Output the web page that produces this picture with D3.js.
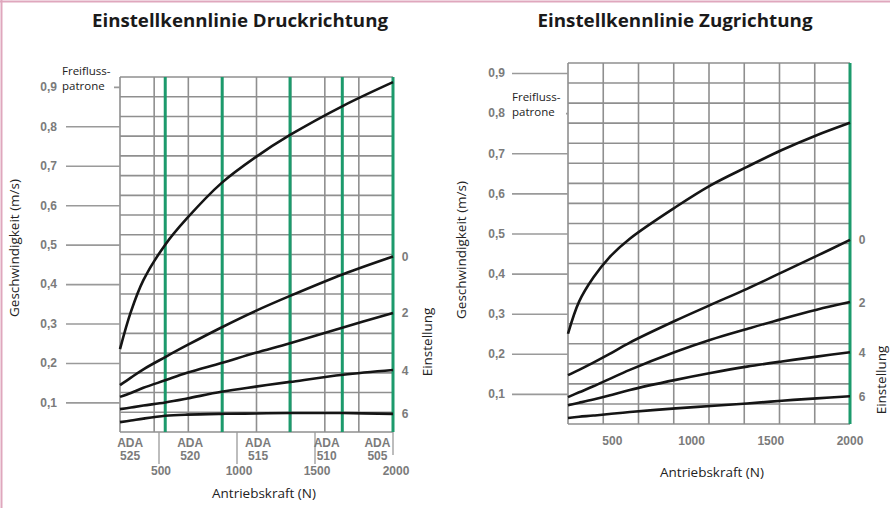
<!DOCTYPE html>
<html><head><meta charset="utf-8">
<script src="https://cdn.jsdelivr.net/npm/d3@7"></script>
<style>
html,body{margin:0;padding:0;background:#fff;}
svg{display:block;}
</style></head>
<body>
<svg id="c" width="890" height="508"></svg>
<script>
// ---------- DATA ----------
const yTickValues = [0.1,0.2,0.3,0.4,0.5,0.6,0.7,0.8,0.9];
const hGridValues = [0.025,0.075,0.125,0.175,0.225,0.275,0.325,0.375,0.425,0.475,0.525,0.575,0.625,0.675,0.725,0.775,0.825,0.875,0.925];
const settingLabels = ["0","2","4","6"];

// Druckrichtung (left)
const druckForce = [250, 320, 400, 540, 680, 900, 1120, 1340, 1680, 2000];
const druckFreifluss = [0.235, 0.33, 0.41, 0.50, 0.567, 0.656, 0.722, 0.778, 0.852, 0.912];
const druckE0 = [0.144, 0.163, 0.184, 0.215, 0.245, 0.290, 0.332, 0.370, 0.425, 0.470];
const druckE2 = [0.114, 0.124, 0.137, 0.156, 0.175, 0.200, 0.226, 0.250, 0.290, 0.327];
const druckE4 = [0.083, 0.087, 0.092, 0.100, 0.110, 0.127, 0.140, 0.152, 0.170, 0.182];
const druckE6 = [0.050, 0.054, 0.059, 0.066, 0.069, 0.071, 0.072, 0.073, 0.073, 0.071];
const druckVGrid = [250, 469, 688, 906, 1125, 1344, 1563, 1781, 2000];
const druckGreen = [540, 905, 1340, 1675, 2000];
const druckXTicks = [500, 1000, 1500, 2000];
const adaTypes = ["525","520","515","510","505"];
const adaForce = [315, 700, 1135, 1575, 1900];

// Zugrichtung (right)
const zugForce = [220, 290, 380, 480, 610, 900, 1120, 1350, 1570, 1790, 2000];
const zugFreifluss = [0.25, 0.33, 0.39, 0.44, 0.487, 0.566, 0.62, 0.666, 0.708, 0.745, 0.776];
const zugE0 = [0.147, 0.160, 0.178, 0.199, 0.228, 0.283, 0.322, 0.362, 0.403, 0.444, 0.484];
const zugE2 = [0.092, 0.104, 0.119, 0.137, 0.160, 0.205, 0.235, 0.262, 0.287, 0.310, 0.329];
const zugE4 = [0.072, 0.078, 0.086, 0.096, 0.110, 0.135, 0.152, 0.168, 0.181, 0.193, 0.204];
const zugE6 = [0.040, 0.043, 0.046, 0.050, 0.055, 0.064, 0.070, 0.076, 0.083, 0.089, 0.094];
const zugVGrid = [220, 442.5, 665, 887.5, 1110, 1332.5, 1555, 1777.5, 2000];
const zugGreen = [2000];
const zugXTicks = [500, 1000, 1500, 2000];

// ---------- DRAW ----------
const svg = d3.select("#c");
const fmt = v => d3.format(".1f")(v).replace(".", ",");
const gridCol = "#8f8f8f", green = "#1c9a6c", tickTxt = "#7b7b7b";

// pink border
svg.append("line").attr("x1",0).attr("x2",890).attr("y1",1.5).attr("y2",1.5).attr("stroke","#dfa7bd").attr("stroke-width",2);
svg.append("line").attr("x1",1.5).attr("x2",1.5).attr("y1",0).attr("y2",508).attr("stroke","#dfa7bd").attr("stroke-width",2);

function panel(cfg){
  const g = svg.append("g");
  const x = cfg.x, y = cfg.y;
  const [x0,x1] = x.range();
  const [y0,y1] = y.range();
  g.selectAll(null).data(hGridValues).join("line")
    .attr("x1",x0).attr("x2",x1).attr("y1",d=>y(d)).attr("y2",d=>y(d))
    .attr("stroke",gridCol).attr("stroke-width",1.6);
  g.selectAll(null).data(cfg.vgrid).join("line")
    .attr("x1",d=>x(d)).attr("x2",d=>x(d)).attr("y1",y0).attr("y2",y1)
    .attr("stroke",gridCol).attr("stroke-width",1.6);
  g.selectAll(null).data(cfg.green).join("line")
    .attr("x1",d=>x(d)).attr("x2",d=>x(d)).attr("y1",y0).attr("y2",y1)
    .attr("stroke",green).attr("stroke-width",3);
  const ax = g.append("g").attr("transform",`translate(${x0},0)`)
    .call(d3.axisLeft(y).tickValues(yTickValues).tickSize(cfg.tickLen).tickPadding(cfg.tickPad).tickFormat(fmt));
  ax.select(".domain").remove();
  ax.selectAll(".tick line").attr("stroke","#9a9a9a").attr("stroke-width",1.6);
  ax.selectAll(".tick text").attr("fill",tickTxt).style("font-family","Liberation Sans, Arial, sans-serif")
    .style("font-size","12px").style("font-weight","bold");
  const line = d3.line().x((d,i)=>x(cfg.force[i])).y(d=>y(d)).curve(d3.curveCatmullRom.alpha(0.5));
  g.selectAll(null).data(cfg.series).join("path")
    .attr("d",d=>line(d)).attr("fill","none").attr("stroke","#151515").attr("stroke-width",2.6);
  const ends = cfg.series.slice(1).map(s=>s[s.length-1]);
  g.selectAll(null).data(settingLabels).join("text")
    .attr("x",x1+12).attr("y",(d,i)=>y(ends[i])+4.5)
    .attr("fill",tickTxt).attr("text-anchor","middle")
    .style("font-family","Liberation Sans, Arial, sans-serif").style("font-size","12px").style("font-weight","bold")
    .text(d=>d);
  g.append("rect").attr("x",cfg.boxX).attr("y",y(cfg.boxV)-26).attr("width",cfg.boxW).attr("height",33).attr("fill","#fff");
  const t = g.append("text").attr("x",cfg.boxX+2).attr("y",y(cfg.boxV)-12)
    .attr("fill","#222").style("font-family","Open Sans, sans-serif").style("font-size","11.5px");
  t.append("tspan").text("Freifluss-");
  t.append("tspan").attr("x",cfg.boxX+2).attr("dy",15).text("patrone");
  g.append("text").attr("transform",`translate(${cfg.yTitleX},${cfg.yTitleY}) rotate(-90)`)
    .attr("text-anchor","middle").attr("fill","#222").style("font-family","Open Sans, sans-serif").style("font-size","13.5px")
    .text("Geschwindigkeit (m/s)");
  g.append("text").attr("transform",`translate(${cfg.eTitleX},${cfg.eTitleY}) rotate(-90)`)
    .attr("text-anchor","middle").attr("fill","#222").style("font-family","Open Sans, sans-serif").style("font-size","13.5px")
    .text("Einstellung");
  g.append("text").attr("x",cfg.xTitleX).attr("y",cfg.xTitleY)
    .attr("text-anchor","middle").attr("fill","#222").style("font-family","Open Sans, sans-serif").style("font-size","13.5px")
    .text("Antriebskraft (N)");
  g.append("text").attr("x",cfg.titleX).attr("y",27)
    .attr("text-anchor","middle").attr("fill","#1a1a1a").style("font-family","Open Sans, sans-serif")
    .style("font-size","17.5px").style("font-weight","700")
    .attr("textLength",cfg.titleW).attr("lengthAdjust","spacingAndGlyphs").text(cfg.title);
  return g;
}

const xL = d3.scaleLinear().domain([250,2000]).range([120,393]);
const yL = d3.scaleLinear().domain([0.025,0.925]).range([432,77]);
const gL = panel({x:xL,y:yL,vgrid:druckVGrid,green:druckGreen,tickLen:54,tickPad:9,
  force:druckForce,series:[druckFreifluss,druckE0,druckE2,druckE4,druckE6],
  boxX:60,boxV:0.9,boxW:54,yTitleX:19,yTitleY:248,eTitleX:432,eTitleY:342,
  xTitleX:264,xTitleY:498,titleX:240,titleW:296,title:"Einstellkennlinie Druckrichtung"});
gL.selectAll(null).data(druckXTicks).join("line")
  .attr("x1",d=>xL(d)).attr("x2",d=>xL(d)).attr("y1",432).attr("y2",d=>d===2000?455:464)
  .attr("stroke","#9a9a9a").attr("stroke-width",1.3);
gL.selectAll(null).data(druckXTicks).join("text")
  .attr("x",d=>xL(d)+(d===2000?3:2)).attr("y",475).attr("text-anchor","middle").attr("fill",tickTxt)
  .style("font-family","Liberation Sans, Arial, sans-serif").style("font-size","12px").style("font-weight","bold")
  .text(d=>d);
const ada = gL.selectAll(null).data(adaTypes).join("text")
  .attr("x",(d,i)=>xL(adaForce[i])).attr("y",447).attr("text-anchor","middle").attr("fill",tickTxt)
  .style("font-family","Liberation Sans, Arial, sans-serif").style("font-size","12px").style("font-weight","bold");
ada.append("tspan").text("ADA");
ada.append("tspan").attr("x",(d,i)=>xL(adaForce[i])).attr("dy",13).text(d=>d);

const xR = d3.scaleLinear().domain([220,2000]).range([568,850]);
const yR = d3.scaleLinear().domain([0.025,0.925]).range([424,63]);
const gR = panel({x:xR,y:yR,vgrid:zugVGrid,green:zugGreen,tickLen:56,tickPad:7,
  force:zugForce,series:[zugFreifluss,zugE0,zugE2,zugE4,zugE6],
  boxX:510,boxV:0.8,boxW:56,yTitleX:466,yTitleY:250,eTitleX:886,eTitleY:380,
  xTitleX:712,xTitleY:477,titleX:675,titleW:275,title:"Einstellkennlinie Zugrichtung"});
gR.selectAll(null).data(zugXTicks).join("text")
  .attr("x",d=>xR(d)).attr("y",445).attr("text-anchor","middle").attr("fill",tickTxt)
  .style("font-family","Liberation Sans, Arial, sans-serif").style("font-size","12px").style("font-weight","bold")
  .text(d=>d);
</script>
</body></html>
